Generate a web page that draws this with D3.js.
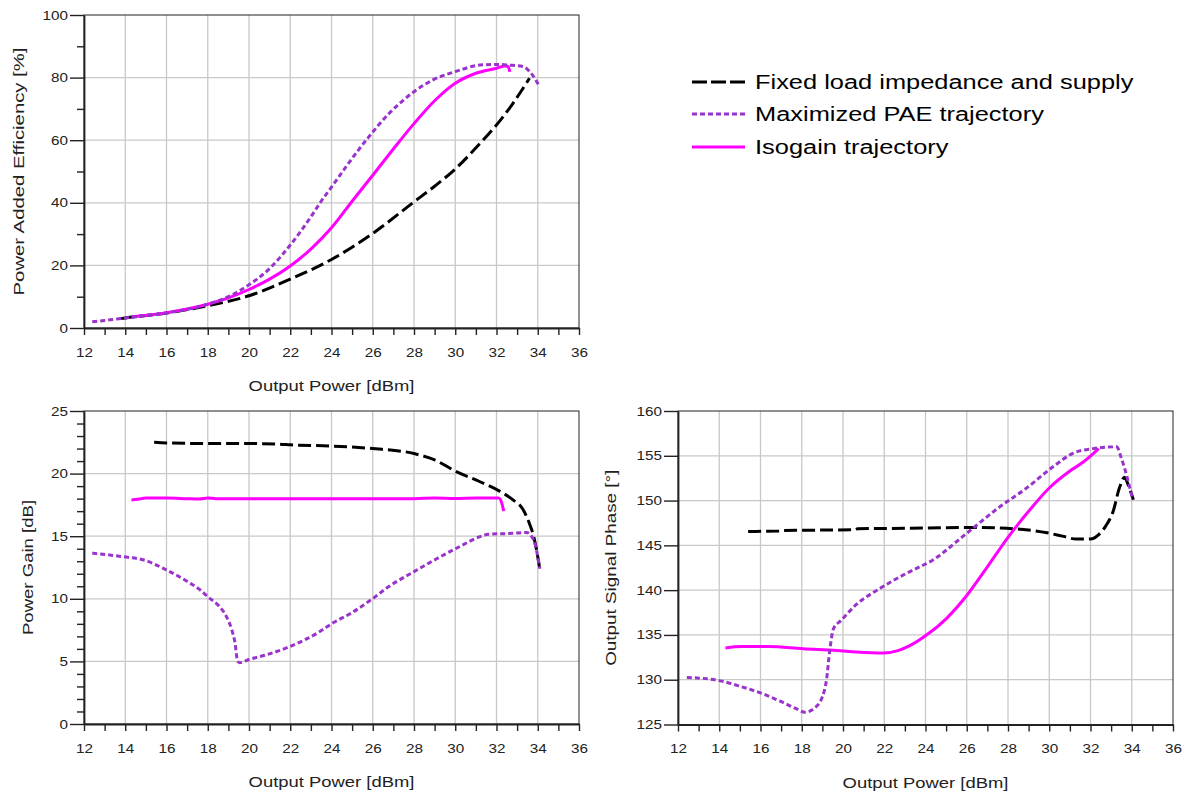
<!DOCTYPE html>
<html><head><meta charset="utf-8">
<script src="https://cdn.jsdelivr.net/npm/d3@7"></script>
<style>
body{margin:0;background:#fff;}
svg{display:block;font-family:"Liberation Sans",Arial,sans-serif;}
</style></head>
<body>
<svg id="c" width="1186" height="794"></svg>
<script>
// ---------- data ----------
const xTicks = d3.range(12, 37, 1);
const paeTicks = [0, 20, 40, 60, 80, 100];
const gainTicks = [0, 5, 10, 15, 20, 25];
const phaseTicks = [125, 130, 135, 140, 145, 150, 155, 160];

const seriesNames = ["Fixed load impedance and supply", "Maximized PAE trajectory", "Isogain trajectory"];

const fixedPAE = [[13.8,3.0],[14,3.2],[16,4.8],[18,7.1],[20,10.3],[22,15.6],[24,21.9],[26,30.2],[28,40.3],[29,45.3],[30,50.8],[31.2,59],[32.2,66.5],[32.8,71.8],[33.6,79.8]];
const maxPAE = [[12.4,2.0],[13,2.4],[14,3.2],[16,4.8],[18,7.6],[19,10],[20,13.8],[21,19],[22,26.5],[23,35.5],[23.5,40.5],[24,45],[24.7,51.5],[25.8,61],[26.8,68.6],[27.9,75],[28.9,79.2],[30,81.9],[31.2,84],[32,84.2],[32.6,84.0],[33.3,83.5],[33.6,82],[34.1,77]];
const isoPAE = [[14.3,3.6],[16,4.9],[18,7.6],[19,9.6],[20,12.3],[21,15.6],[22,19.8],[23,25.2],[24,32.0],[25,40.5],[26,48.8],[27,57.2],[28,65.3],[29,72.6],[30,78.2],[31,81.4],[32,83],[32.4,83.7],[32.55,83.6],[32.65,81.8]];

const fixedGain = [[15.4,22.5],[16,22.45],[18,22.4],[20,22.4],[21.5,22.35],[22,22.3],[24,22.2],[26,22.0],[28,21.6],[29,21.1],[30,20.2],[31.2,19.35],[32.2,18.55],[32.8,17.9],[33.3,17.1],[33.6,16.0],[33.8,15.0],[34.1,12.4]];
const maxGain = [[12.4,13.65],[13.9,13.36],[14.9,13.1],[16,12.3],[17,11.4],[17.6,10.75],[18.05,10.1],[18.5,9.5],[18.9,8.6],[19.15,7.6],[19.32,6.5],[19.45,5.0],[19.55,4.9],[20,5.15],[20.9,5.55],[22,6.2],[23.35,7.3],[24.1,8.1],[25,8.9],[25.9,9.9],[26.8,11.0],[28,12.17],[29.1,13.2],[30.2,14.16],[31.2,14.96],[31.6,15.15],[32.8,15.23],[33.45,15.3],[33.8,14.7],[34.1,12.4]];
const isoGain = [[14.3,17.9],[14.6,17.95],[15,18.05],[16,18.05],[17,18.0],[17.6,17.97],[18,18.05],[18.4,18.0],[20,18.0],[24,18.0],[28,18.0],[29,18.05],[30,18.02],[31,18.05],[32.1,18.05],[32.2,17.9],[32.35,17.0]];

const fixedPhase = [[15.4,146.55],[16.9,146.6],[17,146.65],[20.6,146.75],[20.7,146.85],[23,146.9],[26.3,147.0],[27.5,146.95],[28.6,146.8],[29.9,146.4],[30.7,146.0],[31.3,145.7],[32,145.7],[32.4,146.2],[32.75,147.2],[33.1,148.8],[33.4,151.4],[33.65,152.6],[33.85,151.6],[34.08,150.1]];
const maxPhase = [[12.43,130.26],[14,129.9],[15.1,129.2],[16.03,128.5],[16.96,127.6],[17.7,126.8],[18.16,126.36],[18.6,126.8],[19.0,128.1],[19.2,130],[19.36,133.3],[19.54,135.7],[19.9,136.6],[20.65,138.4],[21.8,140.2],[23.09,141.9],[24.38,143.4],[26,146.35],[27.6,149.3],[28.9,151.4],[30.2,153.8],[31.17,155.3],[32.14,155.8],[33.27,156.0],[33.5,154.7],[34.05,150.1]];
const isoPhase = [[14.3,133.55],[15.1,133.7],[16.4,133.7],[18.06,133.45],[19.7,133.27],[20.65,133.1],[21.95,132.98],[22.7,133.27],[23.24,133.8],[24,134.9],[25,136.8],[26,139.4],[27,142.6],[28,145.9],[29,148.8],[30,151.4],[31,153.3],[31.65,154.3],[32.4,155.8]];

// ---------- styles ----------
const STYLES = [
  {color:"#000000", width:3, dash:"13,5"},
  {color:"#9933cc", width:3, dash:"5,3"},
  {color:"#ff00ff", width:3, dash:null}
];
const TS = 1.27; // horizontal text stretch
const svg = d3.select("#c");

function stretch(sel, f){
  sel.each(function(){
    const w = this.getComputedTextLength();
    if (w>0) d3.select(this).attr("textLength", w*f).attr("lengthAdjust","spacingAndGlyphs");
  });
}

function panel(o){
  const x = d3.scaleLinear().domain([12,36]).range([o.x0,o.x1]);
  const y = d3.scaleLinear().domain(o.yDomain).range([o.y1,o.y0]);
  const g = svg.append("g");
  g.selectAll("line.gx").data(d3.range(14,36,2)).join("line")
    .attr("x1",d=>x(d)).attr("x2",d=>x(d)).attr("y1",o.y0).attr("y2",o.y1)
    .attr("stroke","#c8c8c8").attr("stroke-width",1.3);
  g.selectAll("line.gy").data(o.yTicks.slice(1,-1)).join("line")
    .attr("y1",d=>y(d)).attr("y2",d=>y(d)).attr("x1",o.x0).attr("x2",o.x1)
    .attr("stroke","#c8c8c8").attr("stroke-width",1.3);
  g.append("rect").attr("x",o.x0).attr("y",o.y0).attr("width",o.x1-o.x0).attr("height",o.y1-o.y0)
    .attr("fill","none").attr("stroke","#222").attr("stroke-width",1);
  const xa = g.append("g").attr("transform",`translate(0,${o.y1})`)
    .call(d3.axisBottom(x).tickValues(xTicks).tickSizeInner(7).tickSizeOuter(0).tickPadding(13)
      .tickFormat(d=> d%2===0 ? d : ""));
  xa.select(".domain").attr("stroke","#222").attr("stroke-width",1.8);
  xa.selectAll(".tick line").attr("stroke","#222").attr("stroke-width",1.4);
  xa.selectAll("text").attr("font-size",12.5).attr("fill","#222").attr("font-family",null);
  if (o.yMinor){
    const ym = g.append("g").attr("transform",`translate(${o.x0},0)`)
      .call(d3.axisLeft(y).tickValues(o.yMinor).tickSizeInner(7).tickSizeOuter(0).tickFormat(""));
    ym.select(".domain").remove();
    ym.selectAll(".tick line").attr("stroke","#222").attr("stroke-width",1.4);
  }
  const ya = g.append("g").attr("transform",`translate(${o.x0},0)`)
    .call(d3.axisLeft(y).tickValues(o.yTicks).tickSizeInner(14).tickSizeOuter(0).tickPadding(2));
  ya.select(".domain").attr("stroke","#222").attr("stroke-width",1.8);
  ya.selectAll(".tick line").attr("stroke","#222").attr("stroke-width",1.4);
  ya.selectAll("text").attr("font-size",12.5).attr("fill","#222").attr("font-family",null);
  stretch(xa.selectAll("text"), 1.22);
  stretch(ya.selectAll("text"), 1.22);
  const xt = g.append("text").attr("x",(o.x0+o.x1)/2).attr("y",o.y1+63)
    .attr("text-anchor","middle").attr("font-size",14.5).attr("fill","#222").text("Output Power [dBm]");
  stretch(xt, TS);
  const yt = g.append("text").attr("transform",`translate(${o.ytx},${(o.y0+o.y1)/2}) rotate(-90)`)
    .attr("text-anchor","middle").attr("font-size",14.5).attr("fill","#222").text(o.yTitle);
  stretch(yt, o.yts);
  const line = d3.line().x(d=>x(d[0])).y(d=>y(d[1])).curve(d3.curveMonotoneX);
  o.series.forEach((s)=>{
    const st = STYLES[s.style];
    g.append("path").datum(s.data).attr("d",line).attr("fill","none")
      .attr("stroke",st.color).attr("stroke-width",st.width)
      .attr("stroke-dasharray",st.dash).attr("stroke-linejoin","round");
  });
}

panel({x0:84,x1:579,y0:15,y1:328,yDomain:[0,100],yTicks:paeTicks,yMinor:[10,30,50,70,90],
  yTitle:"Power Added Efficiency [%]",ytx:24,yts:1.4,
  series:[{data:fixedPAE,style:0},{data:isoPAE,style:2},{data:maxPAE,style:1}]});
panel({x0:84,x1:579,y0:411,y1:724,yDomain:[0,25],yTicks:gainTicks,yMinor:d3.range(1,25).filter(d=>d%5),
  yTitle:"Power Gain [dB]",ytx:33,yts:1.28,
  series:[{data:fixedGain,style:0},{data:isoGain,style:2},{data:maxGain,style:1}]});
panel({x0:678,x1:1173,y0:411,y1:724.5,yDomain:[125,160],yTicks:phaseTicks,yMinor:null,
  yTitle:"Output Signal Phase [°]",ytx:616,yts:1.3,
  series:[{data:fixedPhase,style:0},{data:isoPhase,style:2},{data:maxPhase,style:1}]});

const leg = svg.append("g");
const legY = [82, 114, 147];
seriesNames.forEach((n,i)=>{
  const st = STYLES[i];
  leg.append("line").attr("x1",692).attr("x2",745).attr("y1",legY[i]).attr("y2",legY[i])
    .attr("stroke",st.color).attr("stroke-width",st.width).attr("stroke-dasharray", i===0?"15,4":st.dash);
  const t = leg.append("text").attr("x",755).attr("y",legY[i]+7).attr("font-size",20)
    .attr("fill","#000").text(n);
  stretch(t, TS);
});
</script>
</body></html>
